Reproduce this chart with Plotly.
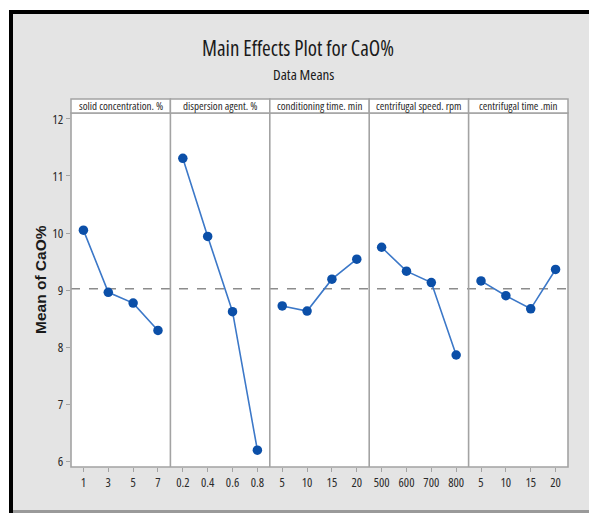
import plotly.graph_objects as go
from plotly.subplots import make_subplots

# Factor names and their levels
factors = ["solid concentration. %", "dispersion agent. %", "conditioning time. min",
           "centrifugal speed. rpm", "centrifugal time .min"]
levels = [
    ["1", "3", "5", "7"],
    ["0.2", "0.4", "0.6", "0.8"],
    ["5", "10", "15", "20"],
    ["500", "600", "700", "800"],
    ["5", "10", "15", "20"],
]
# Mean CaO% at each factor level
means = [
    [10.05, 8.96, 8.77, 8.29],
    [11.31, 9.94, 8.62, 6.19],
    [8.72, 8.63, 9.19, 9.54],
    [9.75, 9.33, 9.13, 7.86],
    [9.16, 8.90, 8.67, 9.36],
]
grand_mean = 9.02
y_ticks = [6, 7, 8, 9, 10, 11, 12]

W, H = 589, 513
L, R, T, B = 71, 568, 113, 467  # plot area in pixels

def px_x(p):
    return (p - L) / (R - L)

def px_y(p):
    return (B - p) / (B - T)

NARROW = "Open Sans"
FRAME = "#a3a3a3"

def narrow(text):
    return '<span style="font-stretch:condensed">' + text + "</span>"

def nfont(size, color="#333"):
    return dict(family=NARROW, size=size, color=color)

fig = make_subplots(rows=1, cols=5, shared_yaxes=True, horizontal_spacing=0)

for i in range(5):
    fig.add_trace(go.Scatter(
        x=[0, 1, 2, 3], y=means[i], mode="lines+markers",
        line=dict(color="#3c78c8", width=1.6),
        marker=dict(color="#0b4fa8", size=9.5),
        showlegend=False, hoverinfo="y"), row=1, col=i + 1)
    fig.update_xaxes(
        range=[-0.5, 3.5], tickvals=[0, 1, 2, 3],
        ticktext=[narrow(t) for t in levels[i]],
        showgrid=False, zeroline=False, showline=False,
        ticks="outside", ticklen=4, tickcolor=FRAME,
        tickfont=nfont(12.5, "#2a2a2a"), row=1, col=i + 1)
    fig.update_yaxes(
        range=[5.895, 12.105], tickvals=y_ticks, showgrid=False, zeroline=False,
        showline=False, row=1, col=i + 1)

fig.update_yaxes(ticks="outside", ticklen=4, tickcolor=FRAME, showticklabels=True,
                 ticktext=[narrow(str(v)) for v in y_ticks],
                 tickfont=nfont(13, "#2a2a2a"), row=1, col=1)

shapes = []
annotations = []
# Grand mean reference line across all panels
shapes.append(dict(type="line", xref="paper", yref="y", x0=0, x1=1,
                   y0=grand_mean, y1=grand_mean,
                   line=dict(color="#8c8c8c", width=1.5, dash="dash"), layer="below"))
# Panel frame and separators
shapes.append(dict(type="rect", xref="paper", yref="paper", x0=0, x1=1, y0=0, y1=1,
                   line=dict(color=FRAME, width=1.6), layer="above"))
for i in range(1, 5):
    shapes.append(dict(type="line", xref="paper", yref="paper", x0=i / 5, x1=i / 5,
                       y0=0, y1=1, line=dict(color=FRAME, width=1.6), layer="above"))
# Strip headers above each panel
for i, name in enumerate(factors):
    x0, x1 = i / 5, (i + 1) / 5
    shapes.append(dict(type="rect", xref="paper", yref="paper",
                       x0=x0, x1=x1, y0=1, y1=px_y(99),
                       fillcolor="white", line=dict(color=FRAME, width=1.5),
                       layer="above"))
    annotations.append(dict(text=narrow(name), xref="paper", yref="paper",
                            x=(x0 + x1) / 2, y=(1 + px_y(99)) / 2,
                            showarrow=False, xanchor="center", yanchor="middle",
                            font=nfont(11, "#2a2a2a")))

# Frame: white margins, black top/left border, bottom rule
shapes += [
    dict(type="rect", xref="paper", yref="paper", x0=px_x(0), x1=px_x(W),
         y0=px_y(10), y1=px_y(0), fillcolor="white", line_width=0, layer="above"),
    dict(type="rect", xref="paper", yref="paper", x0=px_x(0), x1=px_x(9),
         y0=px_y(H), y1=px_y(0), fillcolor="white", line_width=0, layer="above"),
    dict(type="rect", xref="paper", yref="paper", x0=px_x(9), x1=px_x(W),
         y0=px_y(14), y1=px_y(10), fillcolor="black", line_width=0, layer="above"),
    dict(type="rect", xref="paper", yref="paper", x0=px_x(9), x1=px_x(13),
         y0=px_y(H), y1=px_y(10), fillcolor="black", line_width=0, layer="above"),
    dict(type="rect", xref="paper", yref="paper", x0=px_x(13), x1=px_x(W),
         y0=px_y(H), y1=px_y(510), fillcolor="#9a9a9a", line_width=0, layer="above"),
]

annotations += [
    dict(text=narrow("Main Effects Plot for CaO%"), xref="paper", yref="paper",
         x=px_x(298), y=px_y(48), showarrow=False, xanchor="center", yanchor="middle",
         font=nfont(21, "#1a1a1a")),
    dict(text=narrow("Data Means"), xref="paper", yref="paper",
         x=px_x(303), y=px_y(74), showarrow=False, xanchor="center", yanchor="middle",
         font=nfont(15, "#1a1a1a")),
    dict(text="<b>Mean of CaO%</b>", xref="paper", yref="paper",
         x=px_x(40), y=px_y(280), showarrow=False, textangle=-90,
         xanchor="center", yanchor="middle",
         font=dict(family="Liberation Sans, Arial, sans-serif", size=15.5, color="#1a1a1a")),
]

fig.update_layout(
    width=W, height=H,
    margin=dict(l=L, r=W - R, t=T, b=H - B),
    paper_bgcolor="#e4e4e4", plot_bgcolor="white",
    shapes=shapes, annotations=annotations,
    showlegend=False,
)

fig.write_html("out.html")
